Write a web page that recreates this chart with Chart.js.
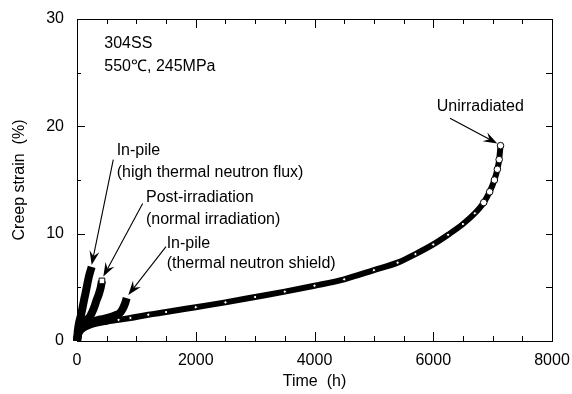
<!DOCTYPE html>
<html>
<head>
<meta charset="utf-8">
<script src="https://cdn.jsdelivr.net/npm/chart.js@4.4.1/dist/chart.umd.min.js"></script>
<style>
html,body{margin:0;padding:0;background:#fff;}
canvas{display:block;}
</style>
</head>
<body>
<canvas id="c" width="572" height="394"></canvas>
<script>
// ---- data (time in h, creep strain in %) ----
const unirrTime   = [0, 20, 50, 100, 200, 350, 500, 700, 900, 1200, 1500, 2000, 2500, 3000, 3500, 4000, 4500, 5000, 5400, 5700, 6000, 6250, 6500, 6700, 6850, 6950, 7030, 7080, 7110, 7133];
const unirrStrain = [0, 0.45, 0.8, 1.1, 1.4, 1.65, 1.8, 1.97, 2.15, 2.45, 2.7, 3.15, 3.6, 4.1, 4.6, 5.15, 5.75, 6.6, 7.3, 8.1, 9.0, 9.9, 10.9, 11.9, 12.9, 13.9, 15.0, 16.0, 16.9, 18.2];

const highFluxTime   = [0, 15, 35, 62, 90, 118, 145, 174, 200, 225, 247];
const highFluxStrain = [0, 1.0, 1.7, 2.3, 3.0, 3.8, 4.5, 5.3, 6.0, 6.5, 6.9];

const postIrrTime   = [0, 30, 80, 150, 220, 280, 330, 370, 400, 420];
const postIrrStrain = [0, 1.0, 1.5, 1.9, 2.3, 3.0, 3.8, 4.4, 5.0, 5.6];

const shieldTime   = [0, 30, 80, 150, 250, 350, 450, 550, 650, 720, 770, 810, 836];
const shieldStrain = [0, 0.9, 1.3, 1.6, 1.8, 1.95, 2.05, 2.2, 2.4, 2.6, 3.0, 3.5, 4.0];

const xTickValues = [0, 2000, 4000, 6000, 8000];
const yTickValues = [0, 10, 20, 30];

// annotation texts (anchored in data units)
const noteTexts = ['304SS', '550\u2103, 245MPa', 'In-pile', '(high thermal neutron flux)', 'Post-irradiation', '(normal irradiation)', 'In-pile', '(thermal neutron shield)', 'Unirradiated'];
const noteTime   = [460, 460, 668, 668, 1162, 1162, 1510, 1510, 6058];
const noteStrain = [27.67, 25.57, 17.72, 15.7, 13.37, 11.27, 9.1, 7.17, 21.83];

// arrows: tail -> tip (data units)
const arrowTailTime   = [611, 1106, 1499, 6282];
const arrowTailStrain = [16.9, 12.8, 8.8, 20.75];
const arrowTipTime    = [247, 443, 864, 7079];
const arrowTipStrain  = [7.08, 6.0, 4.29, 18.4];

const pts = (ts, ss) => ts.map((t, i) => ({x: t, y: ss[i]}));

const FONT = {family: '"Liberation Sans", Arial, Helvetica, sans-serif', size: 16};

const deco = {
  id: 'deco',
  afterDraw(chart) {
    const {ctx, chartArea: a, scales: {x, y}} = chart;
    ctx.save();
    ctx.strokeStyle = '#000';
    ctx.fillStyle = '#000';
    ctx.lineWidth = 1;
    ctx.strokeRect(Math.round(a.left) + 0.5, Math.round(a.top) + 0.5, Math.round(a.right - a.left), Math.round(a.bottom - a.top));
    const seg = (x0, y0, x1, y1) => { ctx.beginPath(); ctx.moveTo(x0, y0); ctx.lineTo(x1, y1); ctx.stroke(); };
    for (let t = 0; t <= 8000; t += 500) {
      const px = Math.round(x.getPixelForValue(t)) + 0.5;
      const L = (t % 2000 === 0) ? 9 : 5;
      seg(px, a.bottom, px, a.bottom - L);
      seg(px, a.top, px, a.top + L);
    }
    for (let v = 0; v <= 30; v += 5) {
      const py = Math.round(y.getPixelForValue(v)) + 0.5;
      const L = (v % 10 === 0) ? 8 : 4;
      seg(a.left, py, a.left + L, py);
      seg(a.right, py, a.right - 6, py);
    }
    // texts
    ctx.font = FONT.size + 'px ' + FONT.family;
    ctx.textAlign = 'left';
    ctx.textBaseline = 'middle';
    noteTexts.forEach((s, i) => {
      ctx.fillText(s, x.getPixelForValue(noteTime[i]), y.getPixelForValue(noteStrain[i]));
    });
    // arrows
    arrowTailTime.forEach((t, i) => {
      const x0 = x.getPixelForValue(t), y0 = y.getPixelForValue(arrowTailStrain[i]);
      const x1 = x.getPixelForValue(arrowTipTime[i]), y1 = y.getPixelForValue(arrowTipStrain[i]);
      const ang = Math.atan2(y1 - y0, x1 - x0), c = Math.cos(ang), s = Math.sin(ang);
      const L = 14, W = 5, N = 9;
      ctx.lineWidth = 1.1;
      seg(x0, y0, x1 - N * c, y1 - N * s);
      ctx.beginPath();
      ctx.moveTo(x1, y1);
      ctx.lineTo(x1 - L * c + W * s, y1 - L * s - W * c);
      ctx.lineTo(x1 - N * c, y1 - N * s);
      ctx.lineTo(x1 - L * c - W * s, y1 - L * s + W * c);
      ctx.closePath();
      ctx.fill();
    });
    ctx.restore();
  }
};

new Chart(document.getElementById('c'), {
  type: 'line',
  data: {
    datasets: [
      {
        label: 'In-pile (high thermal neutron flux)',
        data: pts(highFluxTime, highFluxStrain),
        borderColor: '#000', borderWidth: 8, pointRadius: 0,
        cubicInterpolationMode: 'monotone', clip: false
      },
      {
        label: 'In-pile (thermal neutron shield)',
        data: pts(shieldTime, shieldStrain),
        borderColor: '#000', borderWidth: 8, pointRadius: 0,
        cubicInterpolationMode: 'monotone', clip: false
      },
      {
        label: 'Post-irradiation (normal irradiation)',
        data: pts(postIrrTime, postIrrStrain),
        borderColor: '#000', borderWidth: 8,
        pointStyle: 'rect',
        pointRadius: ctx => ctx.dataIndex === postIrrTime.length - 1 ? 4 : 0,
        pointBackgroundColor: '#fff', pointBorderColor: '#000', pointBorderWidth: 1,
        cubicInterpolationMode: 'monotone', clip: false
      },
      {
        label: 'Unirradiated',
        data: pts(unirrTime, unirrStrain),
        borderColor: '#000', borderWidth: 6,
        pointStyle: 'circle',
        pointRadius: ctx => (ctx.raw && ctx.raw.y > 12) ? 3.3 : (ctx.raw && ctx.raw.y > 1.9 ? 1.6 : 0),
        pointBackgroundColor: '#fff', pointBorderColor: '#000', pointBorderWidth: 1,
        cubicInterpolationMode: 'monotone', clip: false
      }
    ]
  },
  options: {
    responsive: false,
    animation: false,
    events: [],
    layout: {padding: {top: 19, right: 20, left: 0, bottom: 0}},
    plugins: {legend: {display: false}, tooltip: {enabled: false}},
    scales: {
      x: {
        type: 'linear', min: 0, max: 8000,
        afterFit(s) { s.height = 53; s.paddingLeft = 0; s.paddingRight = 0; },
        afterBuildTicks(s) { s.ticks = xTickValues.map(v => ({value: v})); },
        grid: {display: false, drawTicks: false},
        border: {display: false},
        ticks: {padding: 10, font: FONT, color: '#000', maxRotation: 0, autoSkip: false, callback: v => String(v)},
        title: {display: true, text: 'Time  (h)', font: FONT, color: '#000', padding: {top: 0, bottom: 3}}
      },
      y: {
        type: 'linear', min: 0, max: 30,
        afterFit(s) { s.width = 77; s.paddingTop = 0; s.paddingBottom = 0; },
        afterBuildTicks(s) { s.ticks = yTickValues.map(v => ({value: v})); },
        grid: {display: false, drawTicks: false},
        border: {display: false},
        ticks: {padding: 13, font: FONT, color: '#000', autoSkip: false, callback: v => String(v)},
        title: {display: true, text: 'Creep strain  (%)', font: FONT, color: '#000', padding: {top: 10, bottom: 0}}
      }
    }
  },
  plugins: [deco]
});
</script>
</body>
</html>
